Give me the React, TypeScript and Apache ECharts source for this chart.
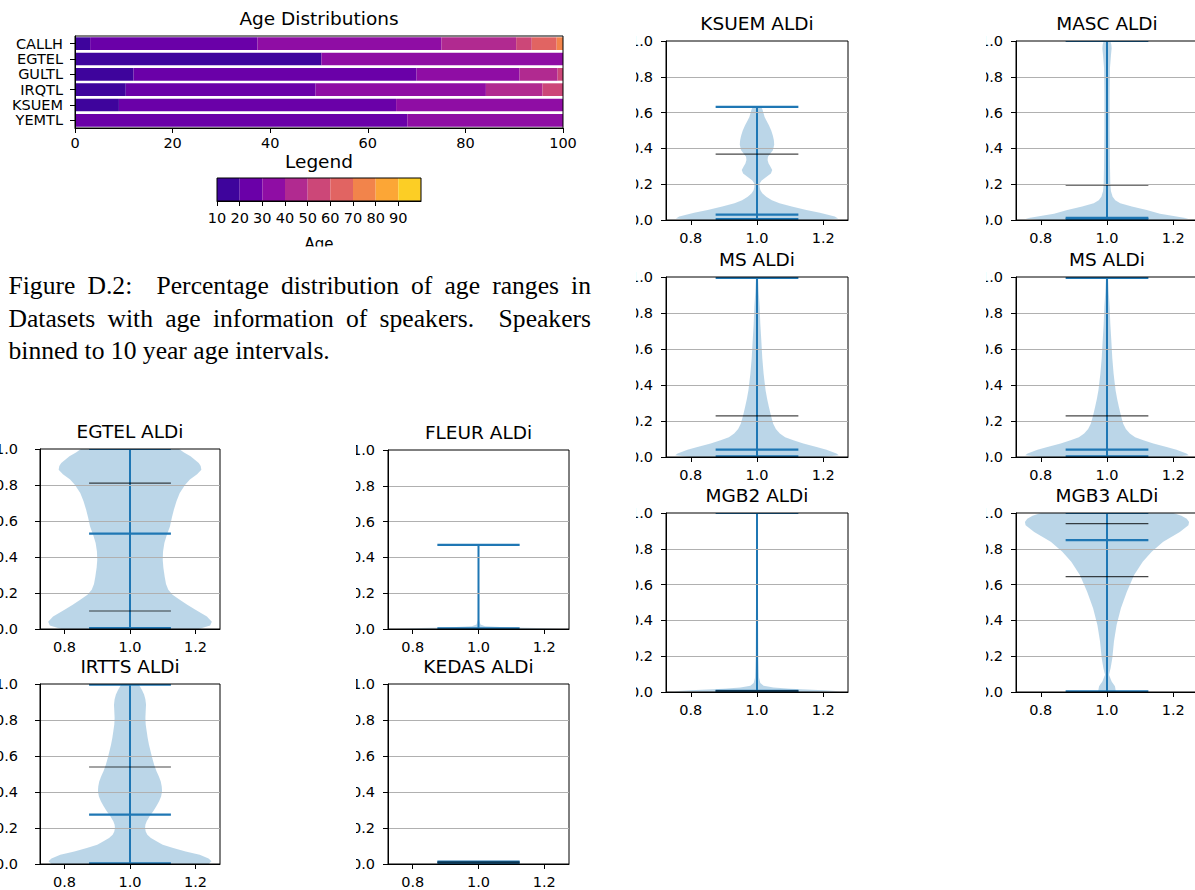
import React, { useEffect, useRef } from "react";
import * as echarts from "echarts";

// ---------------- Age distribution data ----------------
const DATASETS = ["CALLH", "EGTEL", "GULTL", "IRQTL", "KSUEM", "YEMTL"];
const AGE_BINS = ["10", "20", "30", "40", "50", "60", "70", "80", "90"];
const AGE_BIN_STARTS = [10, 20, 30, 40, 50, 60, 70, 80, 90];
const AGE_BIN_WIDTH = 10;
const PLASMA = ["#3e049c", "#6a00a8", "#8f0da4", "#b12a90", "#cc4778", "#e16462", "#f2844b", "#fca636", "#fcce25"];

const CALLH_PCT = [3.1, 34.3, 37.7, 15.3, 3.2, 5.1, 1.3, 0, 0];
const EGTEL_PCT = [50.5, 0, 49.5, 0, 0, 0, 0, 0, 0];
const GULTL_PCT = [12.0, 58.0, 21.1, 7.8, 1.1, 0, 0, 0, 0];
const IRQTL_PCT = [10.4, 38.9, 34.9, 11.6, 4.2, 0, 0, 0, 0];
const KSUEM_PCT = [9.0, 56.8, 34.2, 0, 0, 0, 0, 0, 0];
const YEMTL_PCT = [0, 68.1, 31.9, 0, 0, 0, 0, 0, 0];
const AGE_ROWS = [CALLH_PCT, EGTEL_PCT, GULTL_PCT, IRQTL_PCT, KSUEM_PCT, YEMTL_PCT];

// ---------------- Violin data: [y, half width] profiles ----------------
const EGTEL_BODY = [[0, 0.21], [0.02, 0.245], [0.04, 0.25], [0.07, 0.235], [0.107, 0.2], [0.135, 0.175], [0.163, 0.152], [0.19, 0.13], [0.218, 0.117], [0.25, 0.11], [0.29, 0.106], [0.34, 0.102], [0.385, 0.1], [0.43, 0.101], [0.478, 0.105], [0.52, 0.112], [0.57, 0.122], [0.62, 0.128], [0.663, 0.134], [0.71, 0.142], [0.756, 0.152], [0.8, 0.168], [0.83, 0.183], [0.86, 0.205], [0.885, 0.218], [0.905, 0.216], [0.922, 0.21], [0.94, 0.198], [0.96, 0.185], [0.98, 0.165], [1.0, 0.15]];
const EGTEL_BLUE = [0.005, 0.53, 1.0];
const EGTEL_BLACK = [0.10, 0.81];
const EGTEL_BAR = [0, 1];

const FLEUR_BODY = [[0, 0.05], [0.003, 0.25], [0.008, 0.1], [0.015, 0.02], [0.025, 0.006], [0.05, 0.002], [0.47, 0.001]];
const FLEUR_BLUE = [0.004, 0.47];
const FLEUR_BLACK: number[] = [];
const FLEUR_BAR = [0.004, 0.47];

const IRTTS_BODY = [[0, 0.24], [0.015, 0.249], [0.03, 0.24], [0.052, 0.213], [0.07, 0.17], [0.089, 0.132], [0.107, 0.1], [0.126, 0.081], [0.145, 0.064], [0.163, 0.053], [0.18, 0.048], [0.2, 0.046], [0.218, 0.047], [0.237, 0.051], [0.265, 0.06], [0.293, 0.071], [0.32, 0.08], [0.348, 0.089], [0.375, 0.095], [0.404, 0.098], [0.43, 0.097], [0.459, 0.094], [0.487, 0.088], [0.515, 0.081], [0.55, 0.074], [0.589, 0.068], [0.625, 0.063], [0.663, 0.058], [0.7, 0.054], [0.737, 0.051], [0.775, 0.048], [0.811, 0.047], [0.85, 0.048], [0.885, 0.049], [0.915, 0.047], [0.941, 0.043], [0.965, 0.037], [0.987, 0.03], [1.0, 0.025]];
const IRTTS_BLUE = [0.004, 0.274, 0.996];
const IRTTS_BLACK = [0.539];
const IRTTS_BAR = [0, 1];

const KEDAS_BODY = [[0.004, 0.004], [0.01, 0.006], [0.016, 0.004]];
const KEDAS_BLUE = [0.006, 0.013];
const KEDAS_BLACK = [0.01];
const KEDAS_BAR = [0.006, 0.013];

const KSUEM_BODY = [[0, 0.2], [0.008, 0.245], [0.02, 0.235], [0.04, 0.19], [0.056, 0.149], [0.075, 0.105], [0.093, 0.068], [0.11, 0.045], [0.13, 0.028], [0.15, 0.016], [0.167, 0.01], [0.185, 0.008], [0.204, 0.008], [0.22, 0.014], [0.24, 0.028], [0.26, 0.042], [0.28, 0.046], [0.3, 0.04], [0.316, 0.035], [0.335, 0.032], [0.353, 0.033], [0.37, 0.04], [0.39, 0.048], [0.42, 0.052], [0.446, 0.051], [0.47, 0.048], [0.5, 0.043], [0.53, 0.036], [0.557, 0.028], [0.575, 0.023], [0.595, 0.02], [0.615, 0.017], [0.632, 0.013]];
const KSUEM_BLUE = [0.005, 0.03, 0.632];
const KSUEM_BLACK = [0.368];
const KSUEM_BAR = [0, 0.632];

const MASC_BODY = [[0, 0.2], [0.008, 0.246], [0.019, 0.21], [0.035, 0.16], [0.056, 0.12], [0.075, 0.075], [0.093, 0.04], [0.11, 0.025], [0.13, 0.017], [0.16, 0.012], [0.2, 0.01], [0.3, 0.009], [0.5, 0.008], [0.7, 0.008], [0.85, 0.009], [0.92, 0.012], [0.96, 0.014], [0.98, 0.013], [1.0, 0.01]];
const MASC_BLUE = [0.005, 0.012, 1.0];
const MASC_BLACK = [0.195];
const MASC_BAR = [0, 1];

const MS_BODY = [[0, 0.2], [0.01, 0.247], [0.02, 0.24], [0.04, 0.21], [0.056, 0.18], [0.075, 0.14], [0.093, 0.11], [0.11, 0.085], [0.13, 0.069], [0.155, 0.057], [0.185, 0.049], [0.23, 0.042], [0.278, 0.036], [0.32, 0.031], [0.37, 0.026], [0.415, 0.023], [0.463, 0.02], [0.55, 0.016], [0.648, 0.013], [0.74, 0.01], [0.833, 0.008], [0.92, 0.005], [1.0, 0.003]];
const MS_BLUE = [0.004, 0.041, 0.995];
const MS_BLACK = [0.228];
const MS_BAR = [0, 1];

const MGB2_BODY = [[0, 0.15], [0.004, 0.25], [0.01, 0.2], [0.018, 0.1], [0.025, 0.05], [0.035, 0.02], [0.05, 0.01], [0.08, 0.006], [0.2, 0.004], [0.5, 0.003], [1.0, 0.002]];
const MGB2_BLUE = [0.003, 0.006, 1.0];
const MGB2_BLACK = [0.006];
const MGB2_BAR = [0, 1];

const MGB3_BODY = [[0, 0.027], [0.032, 0.024], [0.059, 0.014], [0.096, 0.006], [0.134, 0.011], [0.189, 0.016], [0.282, 0.021], [0.375, 0.029], [0.468, 0.042], [0.56, 0.06], [0.653, 0.082], [0.727, 0.108], [0.783, 0.135], [0.839, 0.17], [0.894, 0.22], [0.931, 0.246], [0.95, 0.248], [0.968, 0.241], [0.985, 0.225], [1.0, 0.2]];
const MGB3_BLUE = [0.004, 0.848, 1.0];
const MGB3_BLACK = [0.644, 0.941];
const MGB3_BAR = [0, 1];

const VIOLIN_TITLES = ["EGTEL ALDi", "FLEUR ALDi", "IRTTS ALDi", "KEDAS ALDi", "KSUEM ALDi", "MASC ALDi", "MS ALDi", "MS ALDi", "MGB2 ALDi", "MGB3 ALDi"];
const VIOLIN_BODIES = [EGTEL_BODY, FLEUR_BODY, IRTTS_BODY, KEDAS_BODY, KSUEM_BODY, MASC_BODY, MS_BODY, MS_BODY, MGB2_BODY, MGB3_BODY];
const VIOLIN_BLUES = [EGTEL_BLUE, FLEUR_BLUE, IRTTS_BLUE, KEDAS_BLUE, KSUEM_BLUE, MASC_BLUE, MS_BLUE, MS_BLUE, MGB2_BLUE, MGB3_BLUE];
const VIOLIN_BLACKS = [EGTEL_BLACK, FLEUR_BLACK, IRTTS_BLACK, KEDAS_BLACK, KSUEM_BLACK, MASC_BLACK, MS_BLACK, MS_BLACK, MGB2_BLACK, MGB3_BLACK];
const VIOLIN_BARS = [EGTEL_BAR, FLEUR_BAR, IRTTS_BAR, KEDAS_BAR, KSUEM_BAR, MASC_BAR, MS_BAR, MS_BAR, MGB2_BAR, MGB3_BAR];
const VIOLIN_POS = 1.0;
const VIOLIN_CAP = 0.125;
const VIOLIN_X_TICKS = [0.8, 1.0, 1.2];

const CAPTION_LINES = [
  "Figure D.2:  Percentage distribution of age ranges in",
  "Datasets with age information of speakers.  Speakers",
  "binned to 10 year age intervals.",
];

// ---------------- Layout (positions / sizes) ----------------
// [left, top, width, height, yLabelMargin]
const PANEL_BOXES = [
  [40, 449, 180, 180, 22], [388, 450, 181, 179, 13],
  [40, 684, 180, 180, 22], [388, 684, 181, 180, 13],
  [666, 41, 182, 179, 13], [1016, 41, 182, 179, 13],
  [666, 277, 182, 180, 13], [1016, 277, 182, 180, 13],
  [666, 513, 182, 179, 13], [1016, 513, 182, 179, 13],
];
const FONT = "DejaVu Sans";
const SERIF = "Liberation Serif";

export default function App() {
  const ref = useRef<HTMLDivElement>(null);
  useEffect(() => {
    const chart = echarts.init(ref.current!, null, { renderer: "svg" });

    const grids: any[] = [];
    const xAxes: any[] = [];
    const yAxes: any[] = [];
    const series: any[] = [];
    const graphics: any[] = [];
    const gridBase = { show: true, borderColor: "#000", borderWidth: 1, z: 5, containLabel: false, outerBoundsMode: "none" };

    // ---- age distribution chart ----
    grids.push({ ...gridBase, left: 75, top: 36, width: 488, height: 92 });
    xAxes.push({
      gridIndex: 0, type: "value", min: 0, max: 100, interval: 20, z: 5,
      axisLine: { show: true, lineStyle: { color: "#000" } },
      axisTick: { show: true, length: 5, lineStyle: { color: "#000" } },
      axisLabel: { color: "#000", fontSize: 14.5, fontFamily: FONT, margin: 7 },
      splitLine: { show: false },
    });
    yAxes.push({
      gridIndex: 0, type: "category", data: DATASETS, inverse: true, z: 5,
      axisLine: { show: true, lineStyle: { color: "#000" } },
      axisTick: { show: true, length: 5, alignWithLabel: true, lineStyle: { color: "#000" } },
      axisLabel: { color: "#000", fontSize: 14.5, lineHeight: 14, fontFamily: FONT, margin: 12, interval: 0 },
    });
    AGE_BINS.forEach((bin, b) => {
      series.push({
        type: "bar", name: bin, stack: "age", xAxisIndex: 0, yAxisIndex: 0,
        data: AGE_ROWS.map((r) => r[b]), itemStyle: { color: PLASMA[b] },
        barCategoryGap: "17%", silent: true,
      });
    });
    graphics.push({ type: "text", x: 319, y: 18, z: 50, style: { text: "Age Distributions", fontSize: 18.5, fontFamily: FONT, fill: "#000", align: "center", verticalAlign: "middle" } });

    // ---- colorbar legend ----
    grids.push({ ...gridBase, left: 217, top: 178, width: 204, height: 23 });
    xAxes.push({
      gridIndex: 1, type: "value", min: AGE_BIN_STARTS[0], max: AGE_BIN_STARTS[AGE_BIN_STARTS.length - 1] + AGE_BIN_WIDTH, z: 5,
      axisLine: { show: true, lineStyle: { color: "#000" } },
      axisTick: { show: true, length: 5, customValues: AGE_BIN_STARTS, lineStyle: { color: "#000" } },
      axisLabel: { customValues: AGE_BIN_STARTS, color: "#000", fontSize: 14.5, fontFamily: FONT, margin: 9 },
      splitLine: { show: false },
    });
    yAxes.push({ gridIndex: 1, type: "value", min: 0, max: 1, show: false });
    series.push({
      type: "custom", xAxisIndex: 1, yAxisIndex: 1, silent: true,
      data: AGE_BIN_STARTS.map((s, i) => [s, i]),
      renderItem: (_p: any, api: any) => {
        const s = api.value(0);
        const i = api.value(1);
        const p0 = api.coord([s, 0]);
        const p1 = api.coord([s + AGE_BIN_WIDTH, 1]);
        return { type: "rect", shape: { x: p0[0], y: p1[1], width: p1[0] - p0[0], height: p0[1] - p1[1] }, style: { fill: PLASMA[i] } };
      },
    });
    graphics.push({ type: "text", x: 319, y: 161, z: 50, style: { text: "Legend", fontSize: 18.5, fontFamily: FONT, fill: "#000", align: "center", verticalAlign: "middle" } });
    graphics.push({ type: "text", x: 319, y: 244, z: 50, style: { text: "Age", fontSize: 15, fontFamily: FONT, fill: "#000", align: "center", verticalAlign: "middle" } });
    graphics.push({ type: "rect", z: 60, shape: { x: 280, y: 246.5, width: 80, height: 16 }, style: { fill: "#fff" } });

    // ---- violins ----
    VIOLIN_TITLES.forEach((title, k) => {
      const [left, top, width, height, yMargin] = PANEL_BOXES[k];
      const gi = k + 2;
      grids.push({ ...gridBase, left, top, width, height });
      xAxes.push({
        gridIndex: gi, type: "value", min: 0.725, max: 1.275, z: 5,
        axisLine: { show: true, onZero: false, lineStyle: { color: "#000" } },
        axisTick: { show: true, length: 5, customValues: VIOLIN_X_TICKS, lineStyle: { color: "#000" } },
        axisLabel: { customValues: VIOLIN_X_TICKS, color: "#000", fontSize: 14.5, fontFamily: FONT, margin: 10, formatter: (v: number) => v.toFixed(1) },
        splitLine: { show: false },
      });
      yAxes.push({
        gridIndex: gi, type: "value", min: 0, max: 1, interval: 0.2, z: 5,
        axisLine: { show: true, onZero: false, lineStyle: { color: "#000" } },
        axisTick: { show: true, length: 5, lineStyle: { color: "#000" } },
        axisLabel: { color: "#000", fontSize: 14.5, fontFamily: FONT, margin: yMargin, formatter: (v: number) => v.toFixed(1) },
        splitLine: { show: true, showMinLine: false, showMaxLine: false, lineStyle: { color: "#b0b0b0", width: 1 } },
      });
      const body = VIOLIN_BODIES[k];
      const blues = VIOLIN_BLUES[k];
      const blacks = VIOLIN_BLACKS[k];
      const bar = VIOLIN_BARS[k];
      series.push({
        type: "custom", xAxisIndex: gi, yAxisIndex: gi, clip: true, silent: true,
        data: [[VIOLIN_POS, 0]],
        renderItem: (_p: any, api: any) => {
          const right = body.map(([y, w]) => api.coord([VIOLIN_POS + w, y]));
          const leftSide = body.map(([y, w]) => api.coord([VIOLIN_POS - w, y])).reverse();
          const children: any[] = [
            { type: "polygon", shape: { points: right.concat(leftSide) }, style: { fill: "rgba(31,119,180,0.3)" } },
          ];
          const b0 = api.coord([VIOLIN_POS, bar[0]]);
          const b1 = api.coord([VIOLIN_POS, bar[1]]);
          children.push({ type: "line", shape: { x1: b0[0], y1: b0[1], x2: b1[0], y2: b1[1] }, style: { stroke: "#1f77b4", lineWidth: 2 } });
          blues.forEach((v) => {
            const a = api.coord([VIOLIN_POS - VIOLIN_CAP, v]);
            const c = api.coord([VIOLIN_POS + VIOLIN_CAP, v]);
            children.push({ type: "line", shape: { x1: a[0], y1: a[1], x2: c[0], y2: c[1] }, style: { stroke: "#1f77b4", lineWidth: 2.2 } });
          });
          blacks.forEach((v) => {
            const a = api.coord([VIOLIN_POS - VIOLIN_CAP, v]);
            const c = api.coord([VIOLIN_POS + VIOLIN_CAP, v]);
            children.push({ type: "line", shape: { x1: a[0], y1: a[1], x2: c[0], y2: c[1] }, style: { stroke: "rgba(0,0,0,0.72)", lineWidth: 1.2 } });
          });
          return { type: "group", children };
        },
      });
      graphics.push({ type: "text", x: left + width / 2, y: top - 18, z: 50, style: { text: title, fontSize: 18.5, fontFamily: FONT, fill: "#000", align: "center", verticalAlign: "middle" } });
    });

    // white masks that crop the tick labels like the reference collage
    graphics.push({ type: "rect", z: 60, shape: { x: 597, y: 30, width: 39, height: 680 }, style: { fill: "#fff" } });
    graphics.push({ type: "rect", z: 60, shape: { x: 860, y: 30, width: 126, height: 680 }, style: { fill: "#fff" } });
    graphics.push({ type: "rect", z: 60, shape: { x: 240, y: 440, width: 116, height: 430 }, style: { fill: "#fff" } });

    // ---- caption (justified) ----
    const ctx = document.createElement("canvas").getContext("2d")!;
    const measure = (t: string, size: number) => {
      ctx.font = `${size}px "${SERIF}"`;
      return ctx.measureText(t).width;
    };
    const capLeft = 8.5;
    const capRight = 591;
    const lastW = measure(CAPTION_LINES[2], 100);
    const fs = Math.round((100 * 321.5) / lastW * 10) / 10;
    const baselines = [294, 327, 359];
    CAPTION_LINES.forEach((line, li) => {
      const parts = line.split(/( +)/);
      const words: string[] = [];
      const weights: number[] = [];
      parts.forEach((p, i) => {
        if (i % 2 === 0) words.push(p);
        else weights.push(p.length);
      });
      const widths = words.map((w) => measure(w, fs));
      const justify = li < 2;
      const spaceW = measure(" ", fs);
      const sumW = widths.reduce((a, b) => a + b, 0);
      const sumWeights = weights.reduce((a, b) => a + b, 0);
      const unit = justify ? (capRight - capLeft - sumW) / sumWeights : spaceW;
      let x = capLeft;
      words.forEach((w, i) => {
        graphics.push({ type: "text", x, y: baselines[li] - 0.3375 * fs, z: 50, style: { text: w, fontSize: fs, fontFamily: SERIF, fill: "#000", align: "left", verticalAlign: "middle" } });
        x += widths[i] + (i < weights.length ? weights[i] * unit : 0);
      });
    });

    chart.setOption({
      animation: false,
      backgroundColor: "#fff",
      grid: grids,
      xAxis: xAxes,
      yAxis: yAxes,
      series,
      graphic: { elements: graphics },
    });
    return () => chart.dispose();
  }, []);
  return <div ref={ref} style={{ position: "absolute", left: 0, top: 0, width: 1195, height: 890, background: "#fff" }} />;
}
